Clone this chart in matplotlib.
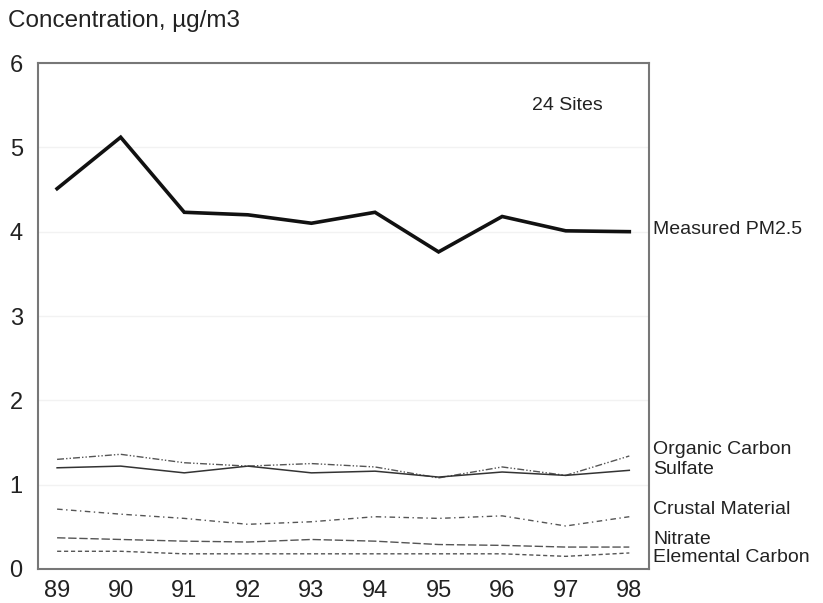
import matplotlib
matplotlib.use("Agg")
import matplotlib.pyplot as plt

years = [89, 90, 91, 92, 93, 94, 95, 96, 97, 98]
year_labels = ["89", "90", "91", "92", "93", "94", "95", "96", "97", "98"]
pm25 = [4.51, 5.12, 4.23, 4.20, 4.10, 4.23, 3.76, 4.18, 4.01, 4.00]
organic_carbon = [1.30, 1.36, 1.26, 1.22, 1.25, 1.21, 1.08, 1.21, 1.11, 1.34]
sulfate = [1.20, 1.22, 1.14, 1.22, 1.14, 1.16, 1.09, 1.15, 1.11, 1.17]
crustal = [0.71, 0.65, 0.60, 0.53, 0.56, 0.62, 0.60, 0.63, 0.51, 0.62]
nitrate = [0.37, 0.35, 0.33, 0.32, 0.35, 0.33, 0.29, 0.28, 0.26, 0.26]
elemental = [0.21, 0.21, 0.18, 0.18, 0.18, 0.18, 0.18, 0.18, 0.15, 0.19]

plt.rcParams['font.family'] = ['Liberation Sans', 'DejaVu Sans']

fig = plt.figure(figsize=(8.23, 6.03), dpi=100)
ax = fig.add_axes([0.0462, 0.0564, 0.7424, 0.8391])

ax.plot(years, pm25, color='#111111', lw=2.6, solid_joinstyle='miter')
ax.plot(years, organic_carbon, color='#555555', lw=1.0, dashes=(5, 1.5, 1, 1.5, 1, 1.5))
ax.plot(years, sulfate, color='#333333', lw=1.1)
ax.plot(years, crustal, color='#555555', lw=1.0, dashes=(4, 2.5, 1, 2.5))
ax.plot(years, nitrate, color='#555555', lw=1.0, dashes=(6, 2))
ax.plot(years, elemental, color='#555555', lw=1.0, dashes=(3, 2))

ax.set_xlim(88.7, 98.31)
ax.set_ylim(0, 6)
ax.set_yticks(range(0, 7))
ax.set_xticks(years)
ax.set_xticklabels(year_labels)
ax.tick_params(length=0, labelsize=17, colors='#222222')
ax.tick_params(axis='y', pad=11)
ax.tick_params(axis='x', pad=8)
ax.grid(axis='y', color='#f2f2f2', lw=1)
ax.set_axisbelow(True)
for s in ax.spines.values():
    s.set_color('#777777')
    s.set_linewidth(1.5)

fig.text(8/823, 1 - 21/603, "Concentration, µg/m3", fontsize=17.5, color='#222222', va='center', ha='left')
ax.text(97.02, 5.5, "24 Sites", fontsize=14, color='#222222', ha='center', va='center')

lab_x = 653/823
labels = [("Measured PM2.5", 230), ("Organic Carbon", 449), ("Sulfate", 469),
          ("Crustal Material", 509), ("Nitrate", 539), ("Elemental Carbon", 558)]
for txt, yp in labels:
    fig.text(lab_x, 1 - yp/603, txt, fontsize=14, color='#222222', va='center', ha='left')

fig.savefig("out.png", dpi=100)
